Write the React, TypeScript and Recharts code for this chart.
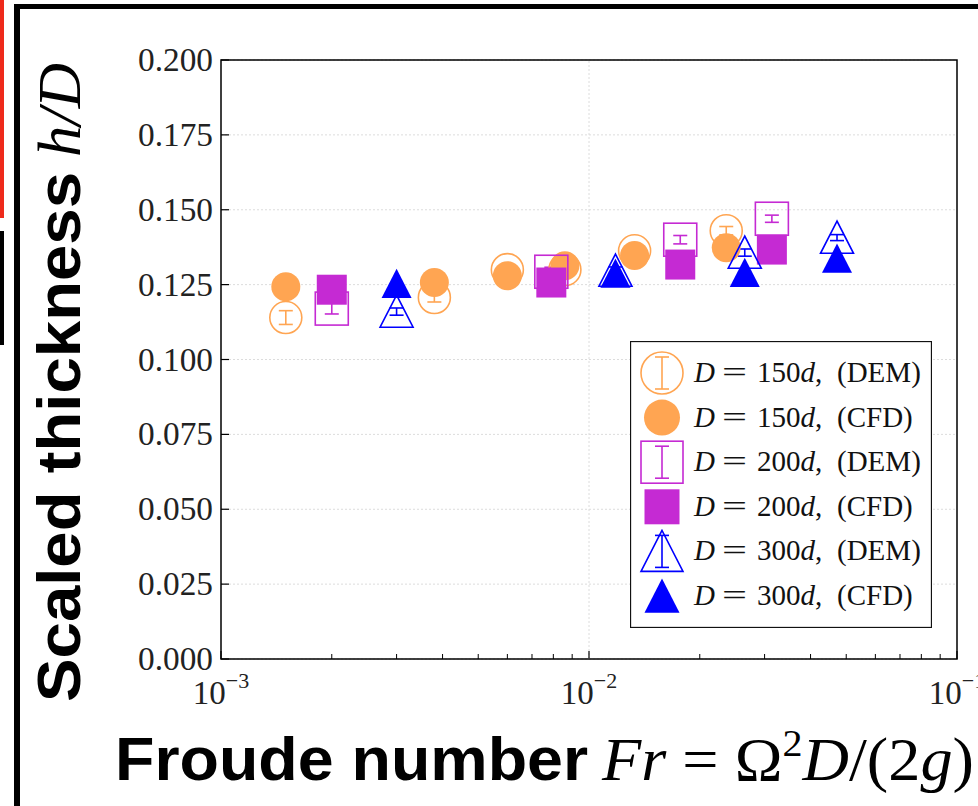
import React from "react";
import {
  ScatterChart, Scatter, XAxis, YAxis, CartesianGrid, ReferenceLine, ReferenceArea, ErrorBar, Legend,
} from "recharts";

// Froude numbers and scaled thickness h/D
const fr150 = [1.5e-3, 3.8e-3, 6.0e-3, 8.6e-3, 1.33e-2, 2.36e-2];
const dem150 = [0.114, 0.1207, 0.13, 0.13, 0.1363, 0.143];
const dem150Err = [0.0023, 0.0015, 0.0015, 0.0015, 0.0015, 0.0014];
const cfd150 = [0.1243, 0.1257, 0.128, 0.1313, 0.1347, 0.1373];

const fr200 = [2.0e-3, 7.9e-3, 1.77e-2, 3.14e-2];
const dem200 = [0.117, 0.1293, 0.14, 0.147];
const dem200Err = [0.0018, 0.0015, 0.0014, 0.0012];
const cfd200 = [0.1233, 0.1257, 0.1317, 0.1367];

const fr300 = [3.0e-3, 1.18e-2, 2.65e-2, 4.72e-2];
const dem300 = [0.116, 0.1297, 0.1357, 0.1407];
const dem300Err = [0.0012, 0.0012, 0.0012, 0.001];
const cfd300 = [0.1253, 0.1287, 0.129, 0.1337];

const yTicks = [0, 0.025, 0.05, 0.075, 0.1, 0.125, 0.15, 0.175, 0.2];
const xMajor = [1e-3, 1e-2, 1e-1];
const xMinor = [2e-3, 3e-3, 4e-3, 5e-3, 6e-3, 7e-3, 8e-3, 9e-3, 2e-2, 3e-2, 4e-2, 5e-2, 6e-2, 7e-2, 8e-2, 9e-2];
const xExponents = ["\u22123", "\u22122", "\u22121"];

const ORANGE = "#FFA552";
const PURPLE = "#C52AD3";
const BLUE = "#0000FF";
const GRID = "#dcdcdc";
const SERIF = "'Liberation Serif', 'Times New Roman', serif";
const SANS = "'Liberation Sans', Arial, sans-serif";

type Pt = { x: number; y: number; err?: number };
const toPts = (xs: number[], ys: number[], errs?: number[]): Pt[] =>
  xs.map((x, i) => ({ x, y: ys[i], err: errs ? errs[i] : undefined }));

type Shape = "circle" | "square" | "triangle";
const SERIES = [
  { key: "dem150", D: "150", method: "DEM", shape: "circle" as Shape, color: ORANGE, open: true, data: toPts(fr150, dem150, dem150Err) },
  { key: "cfd150", D: "150", method: "CFD", shape: "circle" as Shape, color: ORANGE, open: false, data: toPts(fr150, cfd150) },
  { key: "dem200", D: "200", method: "DEM", shape: "square" as Shape, color: PURPLE, open: true, data: toPts(fr200, dem200, dem200Err) },
  { key: "cfd200", D: "200", method: "CFD", shape: "square" as Shape, color: PURPLE, open: false, data: toPts(fr200, cfd200) },
  { key: "dem300", D: "300", method: "DEM", shape: "triangle" as Shape, color: BLUE, open: true, data: toPts(fr300, dem300, dem300Err) },
  { key: "cfd300", D: "300", method: "CFD", shape: "triangle" as Shape, color: BLUE, open: false, data: toPts(fr300, cfd300) },
];

function Marker({ cx, cy, shape, color, open, s }: { cx: number; cy: number; shape: Shape; color: string; open: boolean; s: number }) {
  const paint = open ? { fill: "none", stroke: color, strokeWidth: 1.6 } : { fill: color, stroke: "none" };
  if (shape === "circle") return <circle cx={cx} cy={cy} r={s} {...paint} />;
  if (shape === "square") return <rect x={cx - s} y={cy - s} width={2 * s} height={2 * s} {...paint} />;
  return <polygon points={`${cx},${cy - s} ${cx - s},${cy + s * 0.95} ${cx + s},${cy + s * 0.95}`} {...paint} />;
}

const plotSize = (shape: Shape, open: boolean) =>
  open ? (shape === "circle" ? 16 : 16.5) : shape === "circle" ? 14.5 : 15;
const legendSize = (shape: Shape, open: boolean) =>
  open ? 21 : shape === "circle" ? 18 : 17.5;

const YTick = (props: any) => {
  const { x, y, payload } = props;
  return (
    <g>
      <line x1={x + 8} x2={x + 16} y1={y} y2={y} stroke="#000" strokeWidth={1.2} />
      <text x={x} y={y + 11} textAnchor="end" fontFamily={SERIF} fontSize={33} fill="#222"
        textLength={75} lengthAdjust="spacingAndGlyphs">
        {Number(payload.value).toFixed(3)}
      </text>
    </g>
  );
};

const XTick = (props: any) => {
  const { x, y, payload } = props;
  const major = xMajor.indexOf(payload.value);
  if (major < 0) {
    return <line x1={x} x2={x} y1={y} y2={y - 5} stroke="#000" strokeWidth={1} />;
  }
  return (
    <g>
      <line x1={x} x2={x} y1={y} y2={y - 8} stroke="#000" strokeWidth={1.2} />
      <text x={x} y={y + 45} textAnchor="middle" fontFamily={SERIF} fill="#222">
        <tspan fontSize={33}>10</tspan>
        <tspan fontSize={22} dy={-16}>{xExponents[major]}</tspan>
      </text>
    </g>
  );
};

const YLabel = () => (
  <g transform="translate(80,702) rotate(-90)">
    <text x={0} y={0} fontFamily={SANS} fontWeight="bold" fontSize={62} fill="#000"
      textLength={530} lengthAdjust="spacingAndGlyphs">
      Scaled thickness
    </text>
    <text x={545} y={0} fontFamily={SERIF} fontStyle="italic" fontSize={62} fill="#000"
      textLength={94} lengthAdjust="spacingAndGlyphs">
      h/D
    </text>
  </g>
);

const XLabel = () => (
  <g>
    <text x={115} y={780} fontFamily={SANS} fontWeight="bold" fontSize={61} fill="#000"
      textLength={473} lengthAdjust="spacingAndGlyphs">
      Froude number
    </text>
    <text x={602} y={780} fontFamily={SERIF} fontSize={61} fill="#000"
      textLength={372} lengthAdjust="spacingAndGlyphs">
      <tspan fontStyle="italic">Fr</tspan>
      <tspan> = Ω</tspan>
      <tspan fontSize={38} dy={-24}>2</tspan>
      <tspan fontStyle="italic" dy={24}>D</tspan>
      <tspan>/(2</tspan>
      <tspan fontStyle="italic">g</tspan>
      <tspan>)</tspan>
    </text>
  </g>
);

const LegendBox = () => (
  <svg width={302} height={287} style={{ display: "block" }}>
    <rect x={0.5} y={0.5} width={301} height={286} fill="#fff" stroke="#111" strokeWidth={1.3} />
    {SERIES.map((s, i) => {
      const cy = 32 + i * 44.6;
      return (
        <g key={s.key}>
          <Marker cx={32} cy={cy} shape={s.shape} color={s.color} open={s.open} s={legendSize(s.shape, s.open)} />
          {s.open && (
            <g stroke={s.color} strokeWidth={1.6}>
              <line x1={32} x2={32} y1={cy - 16} y2={cy + 16} />
              <line x1={25} x2={39} y1={cy - 16} y2={cy - 16} />
              <line x1={25} x2={39} y1={cy + 16} y2={cy + 16} />
            </g>
          )}
          <text y={cy + 9} fontFamily={SERIF} fontSize={29} fill="#111">
            <tspan x={64} fontStyle="italic">D</tspan>
            <tspan x={127}>{s.D}</tspan>
            <tspan fontStyle="italic">d</tspan>
            <tspan>,</tspan>
            <tspan x={207}>({s.method})</tspan>
          </text>
          <text x={92} y={cy + 9} fontFamily={SERIF} fontSize={29} fill="#111"
            textLength={25} lengthAdjust="spacingAndGlyphs">=</text>
        </g>
      );
    })}
  </svg>
);

export default function App() {
  return (
    <div style={{ position: "absolute", left: 0, top: 0, width: 978, height: 806, background: "#fff", overflow: "hidden" }}>
      <div style={{ position: "absolute", left: 0, top: 0, width: 4, height: 218, background: "#EE2A1B" }} />
      <div style={{ position: "absolute", left: 0, top: 231, width: 4, height: 114, background: "#000" }} />
      <div style={{ position: "absolute", left: 14, top: 4, width: 1000, height: 900, borderTop: "5px solid #000", borderLeft: "6px solid #000" }} />
      <ScatterChart width={978} height={806} margin={{ top: 60, right: 21, bottom: 87, left: 121 }}>
        <CartesianGrid vertical={false} stroke={GRID} strokeDasharray="2 2" />
        <ReferenceLine x={0.01} stroke={GRID} strokeDasharray="2 2" />
        <XAxis
          dataKey="x" type="number" scale="log" domain={[0.001, 0.1]} allowDataOverflow
          ticks={[...xMajor, ...xMinor].sort((a, b) => a - b)} interval={0}
          axisLine={false} tickLine={false} tickSize={0} tickMargin={0} height={60}
          tick={<XTick />} label={<XLabel />}
        />
        <YAxis
          dataKey="y" type="number" domain={[0, 0.2]} ticks={yTicks} interval={0}
          axisLine={false} tickLine={false} tickSize={0} tickMargin={8} width={100}
          tick={<YTick />} label={<YLabel />}
        />
        <ReferenceArea x1={0.001} x2={0.1} y1={0} y2={0.2} fill="none" stroke="#000" strokeWidth={1.5} ifOverflow="visible" />
        {SERIES.map((s) => (
          <Scatter
            key={s.key} name={s.key} data={s.data} isAnimationActive={false}
            shape={(p: any) => (
              <Marker cx={p.cx} cy={p.cy} shape={s.shape} color={s.color} open={s.open} s={plotSize(s.shape, s.open)} />
            )}
          >
            {s.open && (
              <ErrorBar dataKey="err" direction="y" width={7} stroke={s.color} strokeWidth={1.6} isAnimationActive={false} />
            )}
          </Scatter>
        ))}
        <Legend
          layout="vertical" align="center" verticalAlign="middle"
          wrapperStyle={{ left: 630, top: 341, width: 302, height: 287 }}
          content={() => <LegendBox />}
        />
      </ScatterChart>
    </div>
  );
}
